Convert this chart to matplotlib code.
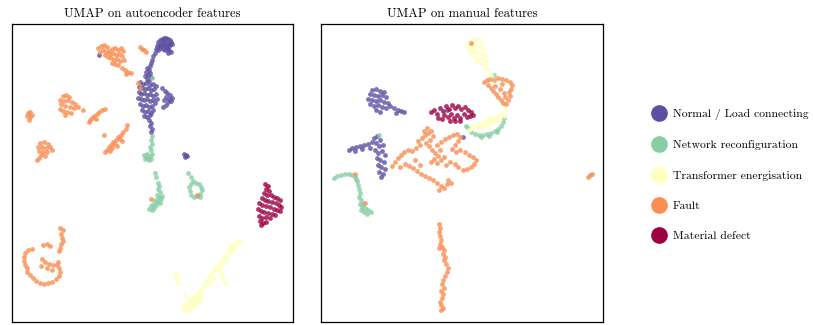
import numpy as np
import matplotlib
matplotlib.use("Agg")
import matplotlib.pyplot as plt
from matplotlib.lines import Line2D

plt.rcParams['font.family'] = 'serif'
plt.rcParams['font.serif'] = ['cmr10', 'DejaVu Serif']
plt.rcParams['axes.unicode_minus'] = False

class_names = ["Normal / Load connecting", "Network reconfiguration",
               "Transformer energisation", "Fault", "Material defect"]
class_colors = plt.cm.Spectral([1.0, 0.75, 0.5, 0.25, 0.0])

# UMAP embedding of the autoencoder features (x, y)
ae_normal = [
    (14.6, 28.0), (14.8, 28.2), (15.0, 28.3), (15.2, 28.4), (15.4, 28.4), (15.6, 28.3), (15.8, 28.2),
    (15.9, 28.0), (15.7, 27.8), (15.5, 27.9), (15.3, 28.1), (15.1, 28.0), (14.9, 27.8), (14.7, 27.7),
    (14.5, 27.6), (15.0, 27.6), (15.2, 27.7), (15.4, 27.6), (15.6, 27.5), (15.8, 27.7), (14.4, 27.3),
    (14.6, 27.2), (14.8, 27.4), (15.1, 27.3), (15.3, 27.2), (15.5, 27.3), (15.7, 27.2), (16.0, 27.8),
    (14.3, 26.9), (14.1, 26.6), (14.0, 26.2), (13.9, 25.9), (13.8, 25.6), (15.6, 26.9), (15.9, 27.0),
    (13.5, 25.4), (13.7, 25.2), (13.4, 25.0), (13.8, 24.9), (13.6, 24.7), (13.3, 24.6), (13.9, 24.5),
    (13.5, 24.3), (13.7, 24.1),
    (12.8, 24.0), (13.1, 23.8), (13.4, 23.9), (13.8, 23.7), (14.1, 23.8), (14.4, 23.6), (13.0, 23.4),
    (13.3, 23.3), (13.6, 23.4), (13.9, 23.2), (14.2, 23.3), (12.7, 23.0), (12.9, 22.8), (13.2, 22.9),
    (13.5, 22.7), (13.8, 22.8), (14.1, 22.6), (14.4, 22.8), (12.6, 22.4), (12.9, 22.3), (13.2, 22.2),
    (13.5, 22.3), (13.8, 22.1), (14.1, 22.2), (14.3, 21.9), (12.8, 21.8), (13.1, 21.6), (13.4, 21.7),
    (13.7, 21.5), (14.0, 21.6), (13.0, 21.2), (13.3, 21.0), (13.6, 21.1), (13.9, 20.9), (13.2, 20.6),
    (13.5, 20.5), (13.8, 20.7), (14.1, 21.2), (14.5, 22.3), (12.7, 23.5),
    (15.0, 23.4), (15.3, 23.1), (15.5, 22.9), (15.8, 22.7), (16.0, 22.4), (15.7, 22.3), (15.4, 22.5),
    (15.2, 22.2), (15.6, 22.0), (15.9, 22.1), (15.4, 21.7), (15.1, 21.5),
    (13.7, 20.2), (13.9, 19.9), (13.8, 19.6), (14.0, 19.3), (13.9, 19.0),
    (17.2, 16.8), (17.4, 16.7), (17.3, 16.5), (17.5, 16.6),
    (8.7, 26.7),
]
ae_network = [
    (14.0, 24.4),
    (14.0, 18.6), (13.9, 18.2), (14.0, 17.8), (13.8, 17.5), (13.9, 17.2),
    (13.2, 16.7), (13.4, 16.5), (13.6, 16.4), (13.8, 16.6), (14.0, 16.8), (13.5, 16.8), (13.3, 16.3),
    (13.7, 16.2), (13.9, 16.3),
    (14.3, 14.9), (14.4, 14.5),
    (14.6, 13.9), (14.7, 13.6), (14.6, 13.3), (14.8, 13.0), (14.5, 12.7), (14.7, 12.5), (14.9, 12.3),
    (14.3, 12.2), (14.5, 12.0), (14.8, 11.9), (14.1, 11.8), (14.4, 11.7), (13.9, 11.6), (14.2, 11.4),
    (13.7, 11.3), (14.0, 11.2), (14.6, 12.2), (15.0, 12.6),
    (17.6, 14.9), (17.9, 14.5), (18.1, 14.1), (18.4, 13.9), (18.7, 13.8), (18.9, 13.5), (19.0, 13.2),
    (18.8, 12.8), (18.5, 12.6), (18.2, 12.5), (17.9, 12.7), (17.8, 13.1), (17.7, 13.5), (17.9, 13.8),
    (18.8, 12.5),
]
ae_transformer = [
    (22.8, 8.1), (22.5, 7.9), (22.3, 7.8), (22.0, 7.6), (21.8, 7.7), (22.2, 7.3), (21.9, 7.1),
    (21.6, 7.2), (21.7, 6.8), (21.4, 6.6), (21.2, 6.4), (21.5, 6.2), (21.0, 6.0), (20.7, 5.8),
    (20.9, 5.6), (20.4, 5.5), (20.2, 5.2), (20.6, 5.2), (20.0, 4.9), (19.8, 4.6), (20.1, 4.4),
    (19.6, 4.3), (19.4, 4.0), (19.7, 3.8), (19.2, 3.6), (19.0, 3.3),
    (18.8, 3.1), (18.5, 2.9), (18.9, 2.7), (18.3, 2.6), (18.6, 2.4), (18.0, 2.4), (18.3, 2.2),
    (17.7, 2.2), (18.7, 2.1), (18.0, 2.0), (17.4, 1.9), (18.4, 1.8), (17.7, 1.7), (17.2, 1.6),
    (18.1, 1.6), (17.5, 1.4), (17.8, 1.3), (17.1, 1.2), (17.4, 1.1), (18.5, 2.2), (18.9, 2.3),
    (17.3, 2.6),
    (16.4, 4.9), (16.5, 4.6), (16.4, 4.3), (16.6, 3.9),
    (20.8, 5.1), (21.0, 4.7), (21.1, 4.3), (21.3, 3.9),
]
ae_fault = [
    (8.6, 27.4), (8.9, 27.6), (9.2, 27.7), (9.5, 27.5), (9.1, 27.2), (9.4, 27.0), (9.7, 27.1),
    (10.0, 27.3), (10.3, 27.4), (10.6, 27.2), (10.9, 27.4), (11.1, 27.1), (9.8, 26.8), (10.1, 26.9),
    (10.4, 26.7), (10.7, 26.8), (11.0, 26.6), (9.6, 26.5), (9.9, 26.4), (10.2, 26.2), (10.5, 26.3),
    (10.8, 26.1), (10.0, 25.9), (10.3, 25.8), (10.6, 25.7), (11.2, 26.2), (8.8, 27.0), (9.3, 26.7),
    (11.0, 25.4), (11.3, 25.2), (11.6, 25.0), (11.9, 24.9), (11.4, 24.8),
    (12.8, 27.5), (13.0, 27.3), (13.2, 27.2), (13.4, 27.0),
    (12.6, 23.9), (12.8, 23.4),
    (5.1, 22.6), (5.4, 22.7), (5.7, 22.5), (4.8, 22.2), (5.2, 22.1), (5.6, 22.2), (6.0, 22.0),
    (6.3, 21.8), (4.9, 21.8), (5.3, 21.6), (5.8, 21.5), (6.2, 21.4), (6.6, 21.5), (4.8, 21.3),
    (5.1, 21.1), (5.5, 21.0), (5.9, 20.9), (5.3, 20.7),
    (7.1, 21.2),
    (1.6, 20.9), (1.8, 21.0), (1.5, 20.6), (1.8, 20.5), (2.0, 20.7), (1.7, 20.2),
    (9.3, 21.3), (9.0, 21.2), (8.7, 21.0), (8.5, 20.8), (8.2, 20.6), (8.0, 20.4), (7.8, 20.2),
    (7.7, 20.0), (8.4, 20.3),
    (11.5, 19.7), (11.4, 19.3), (11.1, 19.0), (10.9, 18.7), (10.6, 18.5), (10.8, 18.3), (10.4, 18.2),
    (10.1, 18.0), (10.3, 17.8), (9.9, 17.7), (9.7, 17.5), (10.0, 17.4), (9.5, 17.2), (9.3, 17.0),
    (9.8, 17.1), (10.5, 17.6), (11.0, 18.1), (9.2, 18.7),
    (2.8, 17.9), (3.2, 18.0), (3.6, 17.8), (2.6, 17.5), (3.0, 17.5), (3.4, 17.4), (3.8, 17.5),
    (4.0, 17.2), (2.7, 17.1), (3.1, 17.0), (3.5, 17.0), (2.9, 16.7), (3.3, 16.6), (2.5, 16.2),
    (2.7, 16.4),
    (1.6, 7.2), (2.0, 7.3), (1.3, 6.9), (1.2, 6.5), (1.2, 6.1), (1.3, 5.7), (1.5, 5.4), (1.5, 5.0),
    (1.8, 4.7), (2.1, 4.4), (2.4, 4.1), (2.8, 3.9), (3.2, 3.8), (3.6, 3.9), (4.0, 4.0), (4.4, 4.3),
    (4.7, 4.6), (4.8, 5.0), (4.7, 5.4), (4.5, 5.7), (4.6, 6.0), (3.3, 6.0), (3.7, 5.8), (4.1, 5.7),
    (2.9, 5.6), (3.5, 5.4), (4.0, 5.2), (3.1, 7.7), (3.5, 7.8), (3.8, 7.6), (4.8, 9.4), (5.1, 9.2),
    (4.9, 8.8), (5.0, 8.4), (5.1, 8.1), (4.9, 7.8), (4.8, 7.4), (4.7, 7.1), (3.0, 6.3),
    (13.9, 12.3), (18.5, 12.7),
]
ae_defect = [
    (25.3, 13.8), (25.6, 13.6), (25.4, 13.3), (25.7, 13.1), (25.2, 12.9), (25.5, 12.7), (25.9, 12.7),
    (26.2, 12.5), (26.5, 12.4), (26.8, 12.2), (25.0, 12.4), (25.3, 12.2), (25.6, 12.1), (26.0, 12.0),
    (26.4, 11.9), (26.7, 11.7), (26.9, 11.5), (24.7, 11.9), (25.0, 11.7), (25.4, 11.6), (25.8, 11.5),
    (26.2, 11.3), (26.5, 11.2), (26.8, 11.1), (24.6, 11.3), (24.9, 11.1), (25.2, 11.0), (25.6, 10.9),
    (26.0, 10.8), (26.3, 10.7), (24.7, 10.6), (25.0, 10.4), (25.4, 10.5), (25.8, 10.4), (24.8, 10.1),
    (25.1, 9.9), (25.4, 10.0), (24.9, 9.7),
]

# UMAP embedding of the manual features (x, y)
mf_normal = [
    (5.1, 23.2), (5.5, 23.3), (5.9, 23.1), (6.3, 23.0), (4.9, 22.8), (5.3, 22.7), (5.7, 22.6),
    (6.1, 22.7), (6.5, 22.5), (4.7, 22.3), (5.1, 22.2), (5.5, 22.1), (5.9, 22.2), (6.3, 22.0),
    (6.7, 21.9), (4.9, 21.8), (5.3, 21.6), (5.7, 21.7), (6.1, 21.5), (6.5, 21.4), (6.9, 21.6),
    (7.3, 21.4), (7.7, 21.2), (8.0, 21.1), (8.3, 21.0), (5.5, 21.2), (5.9, 21.0), (7.5, 20.9),
    (2.8, 17.2), (3.1, 17.4), (3.5, 17.5), (3.9, 17.6), (4.3, 17.7), (4.7, 17.8), (5.1, 18.0),
    (3.4, 17.1), (4.1, 17.3), (4.9, 17.4), (5.3, 18.4), (5.6, 18.6), (5.9, 18.2), (5.5, 17.9),
    (5.8, 17.6), (6.2, 17.7), (5.4, 17.2), (5.7, 16.9), (6.1, 17.1), (6.4, 16.7), (5.6, 16.4),
    (5.9, 16.2), (6.3, 16.0), (5.7, 15.7), (6.0, 15.5), (6.4, 15.3), (5.8, 15.0), (6.2, 14.8),
    (6.0, 14.5),
    (14.1, 18.5), (12.6, 21.2),
]
mf_network = [
    (18.2, 20.4), (18.1, 20.0), (17.9, 19.6), (17.6, 19.3), (17.3, 19.1), (16.9, 18.9), (16.5, 18.8),
    (16.1, 18.7), (15.7, 18.7), (15.3, 18.8), (14.9, 19.0), (14.6, 19.4), (14.4, 19.6), (17.5, 19.0),
    (16.7, 18.6), (15.9, 18.5),
    (17.2, 24.7), (5.8, 18.7),
    (1.3, 14.4), (1.6, 14.6), (2.0, 14.7), (2.4, 14.8), (2.8, 14.8), (3.1, 14.7), (3.4, 14.5),
    (3.6, 14.1), (3.7, 13.7), (3.8, 13.3), (3.9, 12.9), (3.8, 12.5), (4.0, 12.2), (3.9, 11.8),
    (4.1, 11.5), (4.4, 11.4), (4.7, 11.2), (5.0, 11.0), (4.3, 11.0), (4.6, 10.8), (4.0, 11.2),
    (4.2, 11.8), (3.5, 14.3),
]
mf_transformer = [
    (14.7, 28.0), (15.1, 28.2), (15.5, 28.3), (15.9, 28.0), (14.5, 27.6), (14.9, 27.7), (15.3, 27.5),
    (15.7, 27.6), (16.1, 27.4), (14.7, 27.2), (15.1, 27.1), (15.5, 27.0), (15.9, 26.9), (16.3, 26.7),
    (14.9, 26.7), (15.3, 26.5), (15.7, 26.3), (16.1, 26.4), (15.5, 26.0), (15.9, 25.8), (16.3, 25.6),
    (16.5, 25.3), (16.7, 25.0), (16.9, 24.7), (16.4, 26.1),
    (18.3, 21.2), (17.9, 20.9), (17.6, 20.6), (17.2, 20.4), (16.8, 20.2), (16.4, 20.1), (16.0, 19.9),
    (15.6, 19.7), (15.2, 19.6), (14.9, 19.4), (14.7, 19.2), (17.7, 20.3), (17.3, 20.1), (16.9, 19.9),
    (16.5, 19.7), (16.1, 19.5), (15.7, 19.4), (18.2, 20.6), (16.7, 20.5),
]
mf_fault = [
    (16.2, 24.0), (16.5, 24.2), (16.8, 24.3), (17.2, 24.2), (17.6, 24.4), (18.0, 24.3), (18.4, 24.2),
    (18.8, 24.0), (19.0, 23.7), (18.9, 23.3), (18.7, 23.0), (18.8, 22.6), (18.6, 22.2), (18.4, 21.8),
    (16.6, 23.7), (16.9, 23.4), (17.1, 23.1), (17.4, 22.8), (17.6, 22.5), (17.9, 22.2), (18.1, 21.9),
    (17.3, 23.6), (17.8, 23.3), (18.2, 22.9), (18.3, 22.5), (18.0, 23.8),
    (14.9, 27.9),
    (7.1, 15.6), (7.4, 16.0), (7.7, 16.4), (8.0, 16.7), (8.3, 17.0), (8.7, 17.2), (9.1, 17.1),
    (9.5, 17.4), (9.9, 17.7), (9.7, 18.1), (10.1, 18.4), (10.4, 18.7), (10.7, 18.9), (11.0, 19.1),
    (10.3, 19.1), (10.6, 19.4), (11.2, 18.6), (10.9, 18.2), (10.5, 17.9), (10.8, 17.6), (11.1, 17.2),
    (11.4, 16.9), (11.7, 16.6), (11.3, 16.3), (11.0, 16.0), (11.6, 15.9), (12.0, 16.2), (12.3, 16.5),
    (11.9, 17.2), (11.6, 17.7), (12.0, 18.0), (12.4, 18.3), (12.8, 18.5), (13.2, 18.7), (13.6, 18.8),
    (13.9, 18.5), (13.7, 18.1), (13.4, 17.7), (13.1, 17.3), (13.5, 17.0), (13.9, 17.2), (14.3, 17.0),
    (14.7, 16.7), (15.1, 16.5), (15.4, 16.2), (15.2, 15.8), (14.9, 15.5), (14.5, 15.3), (14.1, 15.2),
    (13.7, 15.5), (13.4, 15.8), (12.9, 16.0), (12.5, 15.7), (7.9, 15.5), (8.4, 15.8), (8.8, 15.6),
    (9.2, 15.4), (9.6, 15.1), (10.0, 14.8), (10.4, 14.6), (10.8, 14.4), (11.2, 14.2), (11.6, 13.9),
    (12.0, 13.6), (12.3, 13.4), (11.8, 13.2), (12.6, 13.8), (13.0, 13.9), (12.7, 14.2), (9.9, 15.7),
    (9.4, 16.2),
    (4.4, 11.9), (3.4, 14.8),
    (26.6, 14.5), (26.8, 14.7), (27.0, 14.8),
    (11.8, 9.8), (11.9, 9.4), (11.8, 9.0), (11.9, 8.6), (12.0, 8.2), (11.9, 7.8), (12.1, 7.5),
    (12.3, 7.2), (12.2, 6.8), (12.4, 6.5), (12.3, 6.2), (12.5, 5.8), (12.7, 5.4), (12.6, 5.0),
    (12.4, 4.6), (12.2, 4.2), (12.1, 3.8), (12.3, 3.4), (12.0, 3.1), (12.2, 2.8), (12.1, 2.4),
    (11.9, 2.0), (12.0, 1.7), (12.2, 1.4), (12.0, 1.2), (11.8, 7.4),
]
mf_defect = [
    (11.0, 21.0), (11.3, 21.2), (11.6, 20.8), (11.9, 21.4), (12.2, 21.1), (12.5, 21.6), (12.8, 21.3),
    (13.1, 21.7), (13.4, 21.4), (13.7, 21.6), (14.0, 21.3), (14.3, 21.5), (14.6, 21.2), (14.9, 21.0),
    (15.1, 20.7), (12.3, 20.7), (12.7, 20.5), (13.0, 20.8), (13.3, 20.4), (13.6, 20.7), (13.9, 20.4),
    (14.2, 20.8), (14.5, 20.5), (14.8, 20.6), (11.7, 20.4), (12.1, 20.3), (13.4, 20.1), (12.9, 20.1),
    (13.9, 20.1),
]

panels = [
    ("UMAP on autoencoder features", [ae_normal, ae_network, ae_transformer, ae_fault, ae_defect]),
    ("UMAP on manual features", [mf_normal, mf_network, mf_transformer, mf_fault, mf_defect]),
]

fig = plt.figure(figsize=(8.13, 3.25), dpi=100)
axes = [fig.add_axes([12 / 813, 3 / 325, 281 / 813, 298 / 325]),
        fig.add_axes([321 / 813, 3 / 325, 282 / 813, 298 / 325])]

for ax, (title, groups) in zip(axes, panels):
    for pts, col in zip(groups, class_colors):
        pts = np.array(pts)
        ax.scatter(pts[:, 0], pts[:, 1], s=12, color=col, alpha=0.8, linewidths=0)
    ax.set_xlim(0, 28.1)
    ax.set_ylim(0, 29.8)
    ax.set_xticks([])
    ax.set_yticks([])
    ax.set_title(title, fontsize=9.2, pad=5)
    for sp in ax.spines.values():
        sp.set_linewidth(0.9)

handles = [Line2D([], [], marker='o', linestyle='', markersize=11, color=c, label=n)
           for c, n in zip(class_colors, class_names)]
fig.legend(handles=handles, loc='center left', bbox_to_anchor=(0.789, 0.4615),
           frameon=False, fontsize=8.4, handletextpad=0.6, labelspacing=1.72,
           handlelength=1.2)

fig.savefig("out.png", dpi=100)
